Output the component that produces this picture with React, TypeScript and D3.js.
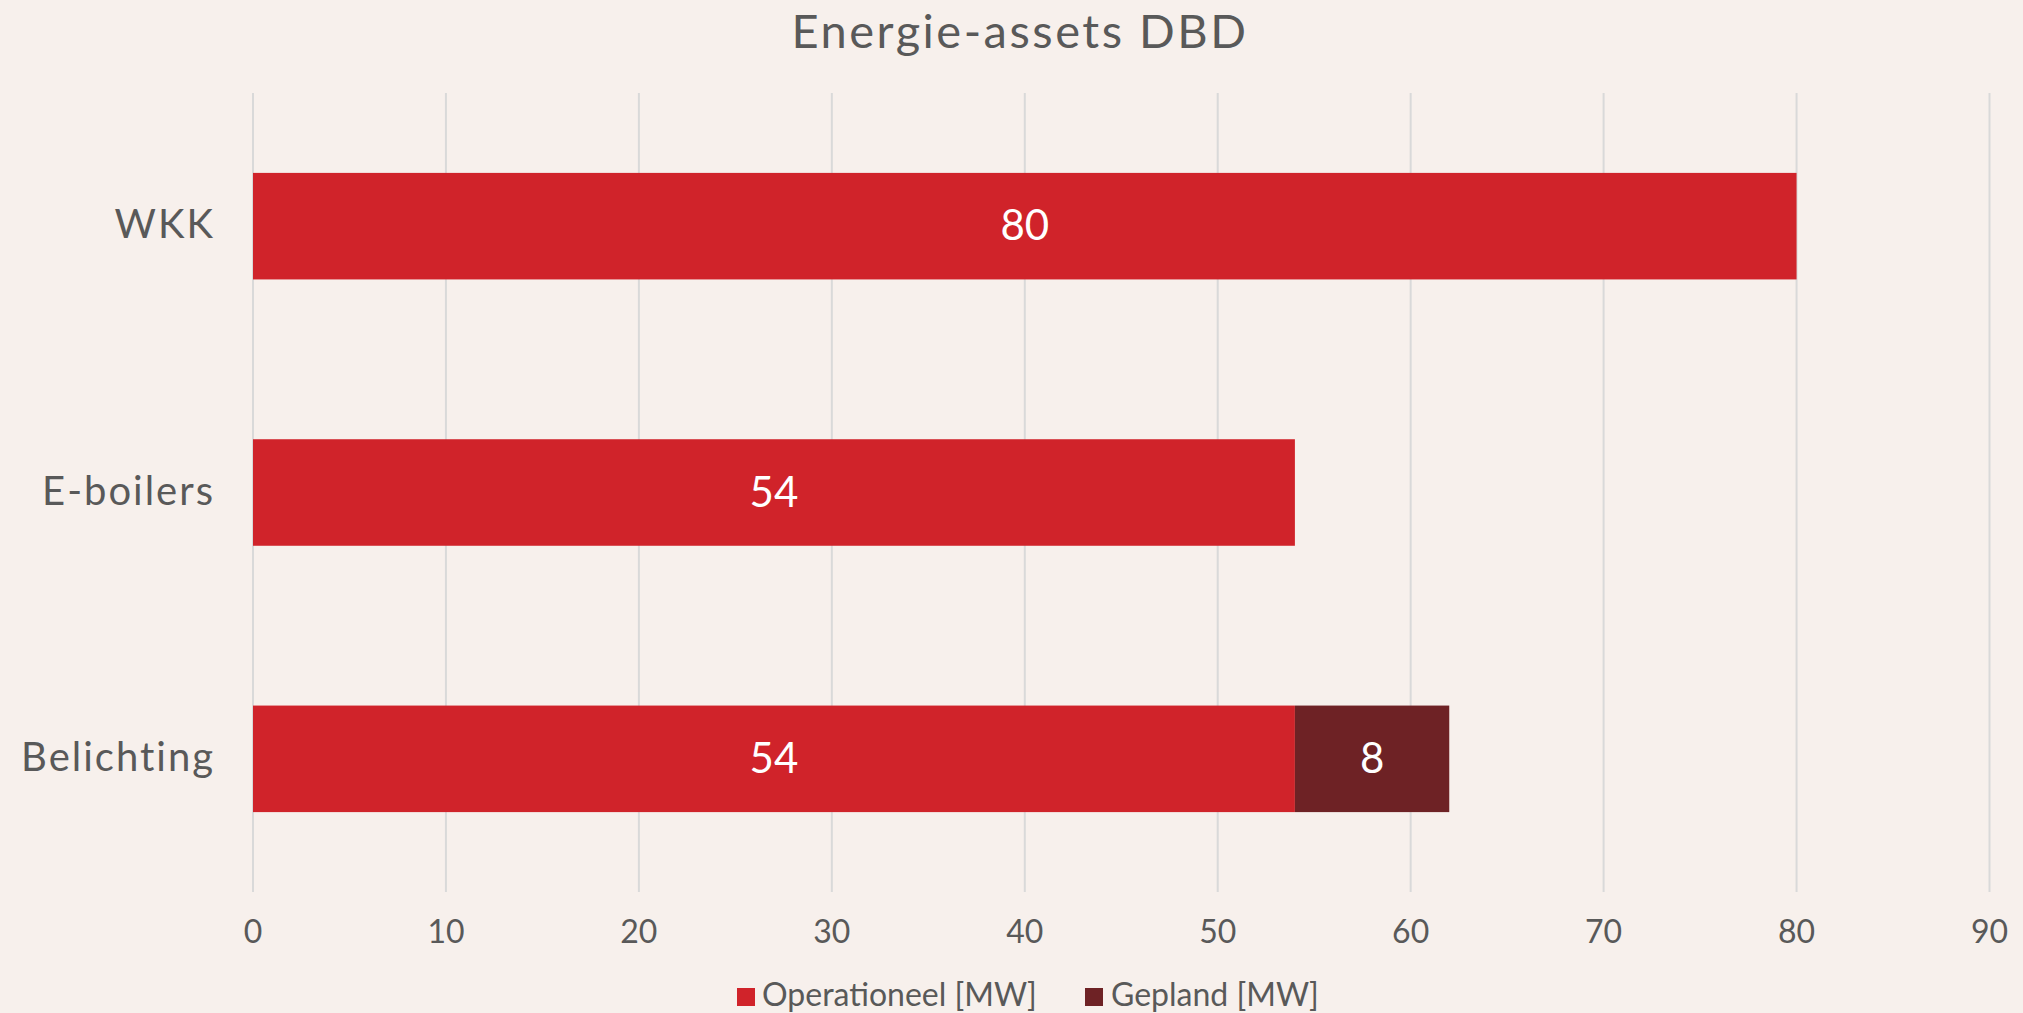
import React from 'react'
import * as d3 from 'd3'

// Chart data
const categories = ['WKK', 'E-boilers', 'Belichting']
const operationeel = [80, 54, 54]
const gepland = [0, 0, 8]
const seriesNames = ['Operationeel [MW]', 'Gepland [MW]']
const xTicks = [0, 10, 20, 30, 40, 50, 60, 70, 80, 90]

const W = 2023
const H = 1013
const BG = '#F7F0EC'
const RED = '#D0232A'
const DARK = '#6E2225'
const TEXT = '#595959'
const GRID = '#D9D9D9'
const FONT = 'Lato, "Open Sans", sans-serif'

const App: React.FC = () => {
  const x = d3.scaleLinear().domain([0, 90]).range([253, 1989.5])
  const y = d3
    .scaleBand<string>()
    .domain(categories)
    .range([93, 892])
    .paddingInner(0.6)
    .paddingOuter(0.3)

  const stack = d3
    .stack<number>()
    .keys(['op', 'gp'])
    .value((i, key) => (key === 'op' ? operationeel[i] : gepland[i]))
  const layers = stack(categories.map((_, i) => i) as any)
  const colors = [RED, DARK]

  return (
    <svg
      width={W}
      height={H}
      style={{ position: 'absolute', left: 0, top: 0, background: BG }}
      fontFamily={FONT}
    >
      <rect x={0} y={0} width={W} height={H} fill={BG} />

      <text
        x={1020}
        y={48}
        textAnchor="middle"
        fontSize={47}
        letterSpacing={2.5}
        fill={TEXT}
      >
        Energie-assets DBD
      </text>

      {/* gridlines */}
      {xTicks.map((t) => (
        <line
          key={t}
          x1={x(t)}
          x2={x(t)}
          y1={93}
          y2={892}
          stroke={GRID}
          strokeWidth={2}
        />
      ))}

      {/* bars */}
      {layers.map((layer, li) =>
        layer.map((d, i) => {
          const v = d[1] - d[0]
          if (!v) return null
          const y0 = y(categories[i])!
          const bw = y.bandwidth()
          return (
            <g key={`${li}-${i}`}>
              <rect
                x={x(d[0])}
                y={y0}
                width={x(d[1]) - x(d[0])}
                height={bw}
                fill={colors[li]}
              />
              <text
                x={(x(d[0]) + x(d[1])) / 2}
                y={y0 + bw / 2 + 14}
                textAnchor="middle"
                fontSize={42}
                fill="#FFFFFF"
              >
                {v}
              </text>
            </g>
          )
        })
      )}

      {/* category labels */}
      {categories.map((c) => (
        <text
          key={c}
          x={215}
          y={y(c)! + y.bandwidth() / 2 + 12}
          textAnchor="end"
          fontSize={40}
          letterSpacing={2}
          fill={TEXT}
        >
          {c}
        </text>
      ))}

      {/* x tick labels */}
      {xTicks.map((t) => (
        <text
          key={t}
          x={x(t)}
          y={943}
          textAnchor="middle"
          fontSize={32}
          fill={TEXT}
        >
          {t}
        </text>
      ))}

      {/* legend */}
      <g>
        <rect x={737} y={988} width={18} height={18} fill={RED} />
        <text x={762} y={1006} fontSize={32} fill={TEXT}>
          {seriesNames[0]}
        </text>
        <rect x={1085} y={988} width={18} height={18} fill={DARK} />
        <text x={1111} y={1006} fontSize={32} fill={TEXT}>
          {seriesNames[1]}
        </text>
      </g>
    </svg>
  )
}

export default App
